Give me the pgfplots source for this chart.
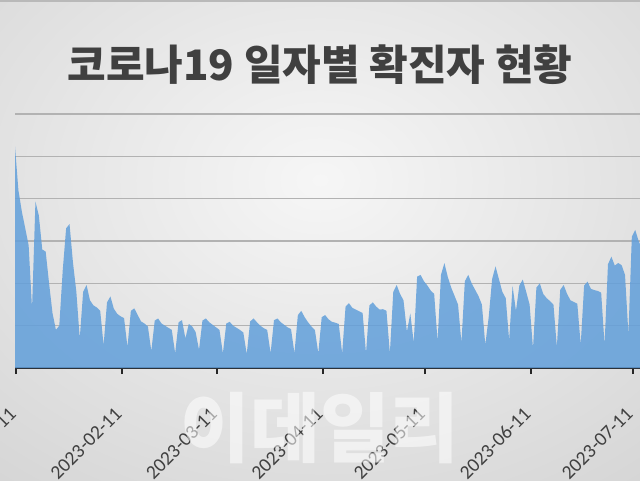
\documentclass[border=0pt]{standalone}
\usepackage{pgfplots}
\pgfplotsset{compat=1.18}
\usepackage{pgfplotstable}
\usetikzlibrary{calc,backgrounds}
\usepackage{fontspec}
\newfontfamily\kr{Noto Sans CJK KR}
\newfontfamily\calib{Carlito}
\definecolor{areablue}{RGB}{97,159,218}
\definecolor{gridgray}{RGB}{178,178,178}
\definecolor{txtgray}{RGB}{64,64,64}
\definecolor{axisdark}{RGB}{38,38,38}
\definecolor{bgin}{RGB}{246,246,246}
\definecolor{bgout}{RGB}{206,206,206}

% daily confirmed cases, day 0 = 2023-01-11
\pgfplotstableread{
d v
0 52300
1 42000
2 37000
3 33000
4 29000
5 14000
6 39300
7 36000
8 28000
9 27500
10 20000
11 13000
12 9000
13 10000
14 23000
15 33000
16 34000
17 25000
18 18000
19 7000
20 18000
21 19600
22 16000
23 14800
24 14300
25 13500
26 5400
27 15500
28 16900
29 14000
30 12800
31 12200
32 11800
33 5000
34 13500
35 14100
36 12500
37 11000
38 10500
39 9800
40 4000
41 11200
42 11700
43 10500
44 10000
45 9500
46 9000
47 3500
48 10800
49 11300
50 7000
51 10400
52 9800
53 8500
54 4300
55 11200
56 11700
57 10800
58 10200
59 9600
60 9000
61 3500
62 10500
63 10900
64 10000
65 9500
66 9000
67 8400
68 3300
69 11000
70 11700
71 10800
72 10000
73 9400
74 9000
75 3500
76 11300
77 11700
78 10800
79 10200
80 9600
81 9200
82 3500
83 12500
84 13500
85 12000
86 10800
87 9800
88 9000
89 3500
90 12000
91 12500
92 11500
93 10900
94 10700
95 10400
96 3500
97 14500
98 15300
99 14200
100 13800
101 13400
102 13000
103 3500
104 14800
105 15500
106 14500
107 13800
108 13900
109 13500
110 3500
111 18000
112 19600
113 17500
114 16000
115 8600
116 12900
117 6000
118 21600
119 22000
120 20500
121 19500
122 18300
123 17500
124 6300
125 22000
126 24800
127 21500
128 19000
129 17000
130 15000
131 6000
132 20500
133 22000
134 20000
135 18500
136 17000
137 15000
138 5500
139 12000
140 21000
141 24000
142 21000
143 18000
144 16500
145 6600
146 19400
147 13500
148 19500
149 20900
150 18000
151 15000
152 4600
153 19000
154 20000
155 17500
156 16500
157 15800
158 15000
159 5000
160 18500
161 19600
162 17500
163 16000
164 15600
165 15200
166 5500
167 19500
168 20400
169 18700
170 18400
171 18200
172 17800
173 5500
174 24500
175 26300
176 24200
177 24800
178 24300
179 22000
180 8000
181 31000
182 32600
183 30000
184 28000
}\dailycases

\begin{document}
\begin{tikzpicture}[x=1pt,y=1pt]
\begin{axis}[
    scale only axis, width=312.5pt, height=127pt,
    xmin=-0.3, xmax=183.1, ymin=0, ymax=60000,
    axis lines*=left,
    y axis line style={draw=none},
    x axis line style={-, draw=axisdark, line width=1pt},
    scaled y ticks=false,
    ytick={10000,20000,30000,40000,50000,60000},
    yticklabels={},
    ytick style={draw=none},
    ymajorgrids,
    major grid style={draw=gridgray, line width=0.8pt},
    xtick={0,31,59,90,120,151,181},
    xticklabels={2023-01-11,2023-02-11,2023-03-11,2023-04-11,2023-05-11,2023-06-11,2023-07-11},
    xtick style={draw=axisdark, line width=1pt},
    tick align=outside, major tick length=3pt,
    xticklabel style={rotate=45, anchor=east, text=txtgray,
        font=\calib\fontsize{9.8}{11}\selectfont, xshift=-10.7pt, yshift=-11.9pt},
  ]
\addplot[fill=areablue, fill opacity=0.85, draw=none]
    table[x expr=\thisrow{d}-0.3, y=v] {\dailycases} \closedcycle;
\coordinate (pa) at (rel axis cs:0,0);
\end{axis}

\begin{scope}[on background layer]
  \shade[inner color=bgin, outer color=bgout]
      ($(pa)+(-167.5,-146)$) rectangle ++(640,480);
  \fill[gray!55] ($(pa)+(-7.5,183.2)$) rectangle ++(320,0.8);
\end{scope}

\node[font=\kr\bfseries\fontsize{21}{24}\selectfont, text=txtgray]
    at ($(pa)+(152.5,151.5)$) {코로나19 일자별 확진자 현황};
\node[font=\kr\bfseries\fontsize{38}{42}\selectfont, text=white, opacity=0.55]
    at ($(pa)+(152.5,-30)$) {이데일리};

\pgfresetboundingbox
\useasboundingbox ($(pa)+(-7.5,-56)$) rectangle ++(320,240);
\end{tikzpicture}
\end{document}
